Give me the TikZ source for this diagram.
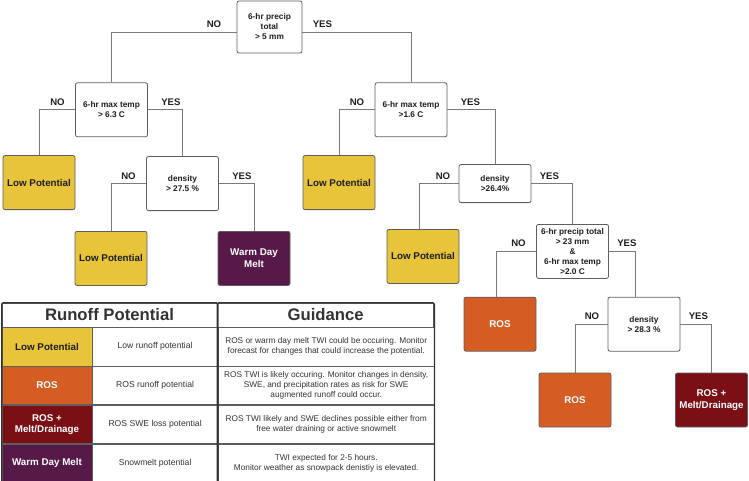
\documentclass[tikz,border=0pt]{standalone}
\usepackage{fontspec}
\setmainfont{Liberation Sans}
\usepackage{tikz}
\usetikzlibrary{positioning}
\usepackage{xcolor}
\definecolor{LowYellow}{HTML}{E8C43A}
\definecolor{RosOrange}{HTML}{D55D24}
\definecolor{DrainRed}{HTML}{7A1016}
\definecolor{WarmPurple}{HTML}{571A48}
\definecolor{BoxGray}{HTML}{5E5E5E}
\definecolor{LinkGray}{HTML}{7A7A7A}
\definecolor{InkDark}{HTML}{1E1E1E}
\definecolor{TableInk}{HTML}{333333}
\tikzset{
  branch/.style={draw=LinkGray,line width=0.8pt},
  answer/.style={font=\fontsize{9.6}{11}\selectfont\bfseries,text=InkDark,inner sep=1pt},
  test/.style={draw=BoxGray,line width=0.8pt,rounded corners=2pt,fill=white,align=center,minimum width=72pt,minimum height=54pt,inner sep=1pt,font=\fontsize{8.3}{10}\selectfont\bfseries,text=InkDark},
  outcome/.style={test,font=\fontsize{9.8}{11.5}\selectfont\bfseries},
  lowbox/.style={outcome,fill=LowYellow},
  rosbox/.style={outcome,fill=RosOrange,text=white},
  drainbox/.style={outcome,fill=DrainRed,text=white},
  warmbox/.style={outcome,fill=WarmPurple,text=white},
  tablehead/.style={draw=BoxGray,line width=0.6pt,minimum height=24pt,inner sep=0pt,font=\fontsize{16.7}{18}\selectfont\bfseries,text=TableInk},
  keycell/.style={draw=BoxGray,line width=0.6pt,minimum width=90pt,minimum height=38.25pt,inner sep=1pt,align=center,font=\fontsize{9.8}{11.5}\selectfont\bfseries,text=white},
  desccell/.style={draw=BoxGray,line width=0.6pt,fill=white,minimum width=125pt,minimum height=38.25pt,inner sep=1pt,align=center,font=\fontsize{8.6}{10}\selectfont,text=TableInk},
  guidecell/.style={desccell,minimum width=216pt,font=\fontsize{8.3}{10}\selectfont},
  tableframe/.style={draw=TableInk,line width=1.3pt,rounded corners=1.5pt}
}
\begin{document}
\begin{tikzpicture}[x=1pt,y=-1pt]
  \useasboundingbox (0,0) rectangle (749,481);

  % decision tree
  \node[test,minimum width=65pt,minimum height=52pt] (root) at (269.5,27) {6-hr precip\\total\\> 5 mm};
  \node[test,below=29pt of root,xshift=-158pt] (tempL) {6-hr max temp\\> 6.3 C};
  \node[test,below=29pt of root,xshift=141.5pt] (tempR) {6-hr max temp\\>1.6 C};

  \node[lowbox,below=18pt of tempL,xshift=-72.5pt] (lowA) {Low Potential};
  \node[test,below=19pt of tempL,xshift=71pt] (densL) {density\\> 27.5 \%};
  \node[lowbox,below=20pt of densL,xshift=-71.5pt] (lowB) {Low Potential};
  \node[warmbox,below=20pt of densL,xshift=71.5pt] (warm) {Warm Day\\Melt};

  \node[lowbox,below=18pt of tempR,xshift=-72pt] (lowC) {Low Potential};
  \node[test,minimum height=38pt,below=27pt of tempR,xshift=84pt] (densR) {density\\>26.4\%};
  \node[lowbox,below=26pt of densR,xshift=-72pt] (lowD) {Low Potential};
  \node[test,below=21pt of densR,xshift=77.5pt] (combo) {6-hr precip total\\> 23 mm\\\&\\6-hr max temp\\>2.0 C};
  \node[rosbox,below=18pt of combo,xshift=-72.5pt] (rosA) {ROS};
  \node[test,below=18pt of combo,xshift=71.5pt] (densS) {density\\> 28.3 \%};
  \node[rosbox,below=21pt of densS,xshift=-69pt] (rosB) {ROS};
  \node[drainbox,below=21pt of densS,xshift=67.5pt] (rosM) {ROS +\\Melt/Drainage};

  \draw[branch] ([yshift=-5pt]root.west) node[answer,above left=3pt and 14pt] {NO} -| (tempL.north);
  \draw[branch] ([yshift=-5pt]root.east) node[answer,above right=3pt and 9pt] {YES} -| (tempR.north);
  \draw[branch] (tempL.west) node[answer,above left=3pt and 9pt] {NO} -| (lowA.north);
  \draw[branch] (tempL.east) node[answer,above right=3pt and 12pt] {YES} -| (densL.north);
  \draw[branch] (densL.west) node[answer,above left=3pt and 9pt] {NO} -| (lowB.north);
  \draw[branch] (densL.east) node[answer,above right=3pt and 12pt] {YES} -| (warm.north);
  \draw[branch] (tempR.west) node[answer,above left=3pt and 9pt] {NO} -| (lowC.north);
  \draw[branch] (tempR.east) node[answer,above right=3pt and 12pt] {YES} -| (densR.north);
  \draw[branch] (densR.west) node[answer,above left=3pt and 7pt] {NO} -| ([xshift=-4pt]lowD.north);
  \draw[branch] (densR.east) node[answer,above right=3pt and 7pt] {YES} -| (combo.north);
  \draw[branch] (combo.west) node[answer,above left=3pt and 9pt] {NO} -| ([xshift=-4pt]rosA.north);
  \draw[branch] (combo.east) node[answer,above right=3pt and 7pt] {YES} -| ([xshift=-9pt]densS.north);
  \draw[branch] (densS.west) node[answer,above left=3pt and 7pt] {NO} -| (rosB.north);
  \draw[branch] (densS.east) node[answer,above right=3pt and 7pt] {YES} -| (rosM.north);

  % legend table
  \node[tablehead,minimum width=215pt] (runhead) at (109.5,315) {Runoff Potential};
  \node[tablehead,minimum width=216pt,right=0pt of runhead] (guidehead) {Guidance};

  \node[keycell,fill=LowYellow,text=InkDark,anchor=north west] (lowkey) at (runhead.south west) {Low Potential};
  \node[desccell,right=0pt of lowkey] (lowdesc) {Low runoff potential};
  \node[guidecell,right=0pt of lowdesc] (lowguide) {ROS or warm day melt TWI could be occuring. Monitor\\forecast for changes that could increase the potential.};

  \node[keycell,fill=RosOrange,below=0pt of lowkey] (roskey) {ROS};
  \node[desccell,right=0pt of roskey] (rosdesc) {ROS runoff potential};
  \node[guidecell,right=0pt of rosdesc] (rosguide) {ROS TWI is likely occuring. Monitor changes in density,\\SWE, and precipitation rates as risk for SWE\\augmented runoff could occur.};

  \node[keycell,fill=DrainRed,below=0pt of roskey] (drainkey) {ROS +\\Melt/Drainage};
  \node[desccell,right=0pt of drainkey] (draindesc) {ROS SWE loss potential};
  \node[guidecell,right=0pt of draindesc] (drainguide) {ROS TWI likely and SWE declines possible either from\\free water draining or active snowmelt};

  \node[keycell,fill=WarmPurple,below=0pt of drainkey] (meltkey) {Warm Day Melt};
  \node[desccell,right=0pt of meltkey] (meltdesc) {Snowmelt potential};
  \node[guidecell,right=0pt of meltdesc] (meltguide) {TWI expected for 2-5 hours.\\Monitor weather as snowpack denistiy is elevated.};

  \draw[tableframe] (runhead.north west) rectangle (meltdesc.south east);
  \draw[tableframe] (guidehead.north west) rectangle (meltguide.south east);
\end{tikzpicture}
\end{document}
